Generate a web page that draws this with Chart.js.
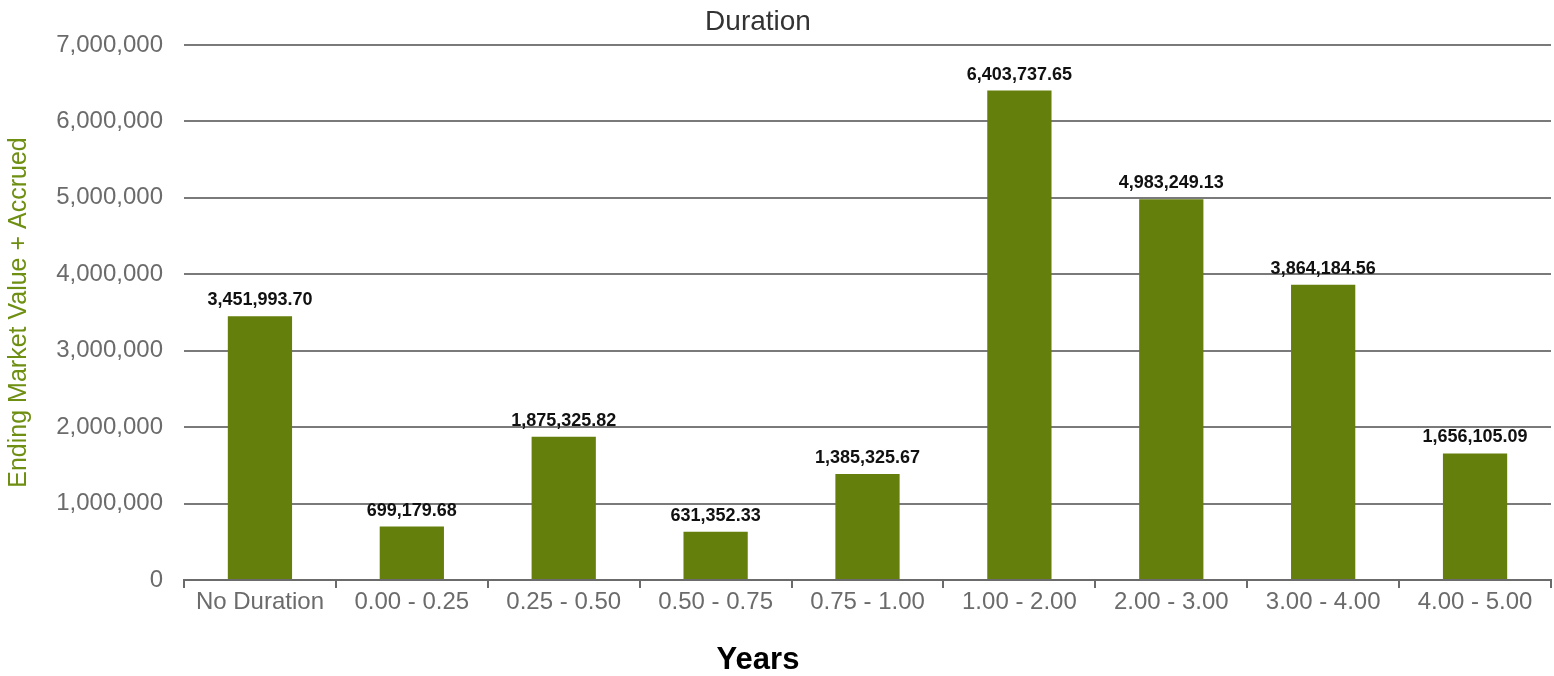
<!DOCTYPE html>
<html>
<head>
<meta charset="utf-8">
<script src="https://cdn.jsdelivr.net/npm/chart.js@4/dist/chart.umd.min.js"></script>
<style>
  html, body { margin: 0; padding: 0; background: #ffffff; }
  #wrap { width: 1554px; height: 676px; }
</style>
</head>
<body>
<div id="wrap"><canvas id="c" width="1554" height="676"></canvas></div>
<script>
const categories = ["No Duration", "0.00 - 0.25", "0.25 - 0.50", "0.50 - 0.75", "0.75 - 1.00", "1.00 - 2.00", "2.00 - 3.00", "3.00 - 4.00", "4.00 - 5.00"];
const values = [3451993.70, 699179.68, 1875325.82, 631352.33, 1385325.67, 6403737.65, 4983249.13, 3864184.56, 1656105.09];
const yTicks = [0, 1000000, 2000000, 3000000, 4000000, 5000000, 6000000, 7000000];
const chartTitle = "Duration";
const xTitle = "Years";
const yTitle = "Ending Market Value + Accrued";

const FONT = "'Liberation Sans', Arial, sans-serif";
const fmtLabel = v => v.toLocaleString('en-US', {minimumFractionDigits: 2, maximumFractionDigits: 2});

const valueLabels = {
  id: 'valueLabels',
  afterDatasetsDraw(chart) {
    const ctx = chart.ctx;
    const meta = chart.getDatasetMeta(0);
    ctx.save();
    ctx.font = "bold 18px " + FONT;
    ctx.fillStyle = '#111111';
    ctx.textAlign = 'center';
    ctx.textBaseline = 'middle';
    meta.data.forEach((bar, i) => {
      ctx.fillText(fmtLabel(values[i]), bar.x, bar.y - 16);
    });
    ctx.restore();
  }
};

// Chart title and x-axis title, centred slightly left of the canvas centre as in the reference
const titles = {
  id: 'titles',
  afterDraw(chart) {
    const ctx = chart.ctx;
    const cx = chart.width / 2 - 19;
    ctx.save();
    ctx.textAlign = 'center';
    ctx.textBaseline = 'middle';
    ctx.fillStyle = '#333333';
    ctx.font = "28px " + FONT;
    ctx.fillText(chartTitle, cx, 22);
    ctx.fillStyle = '#000000';
    ctx.font = "bold 31px " + FONT;
    ctx.fillText(xTitle, cx, 660);
    ctx.restore();
  }
};

new Chart(document.getElementById('c'), {
  type: 'bar',
  data: {
    labels: categories,
    datasets: [{
      data: values,
      backgroundColor: '#647F0B',
      borderWidth: 0,
      categoryPercentage: 0.47,
      barPercentage: 0.9
    }]
  },
  options: {
    responsive: false,
    animation: false,
    layout: { padding: { left: 0, right: 3, top: 45, bottom: 0 } },
    plugins: {
      legend: { display: false },
      tooltip: { enabled: false },
      title: { display: false }
    },
    scales: {
      x: {
        grid: { display: true, drawOnChartArea: false, drawTicks: true, tickLength: 8, color: '#6b6b6b', lineWidth: 2, offset: true },
        border: { display: true, color: '#6b6b6b', width: 2 },
        ticks: { color: '#6b6b6b', font: { family: FONT, size: 24 }, padding: 0, maxRotation: 0, autoSkip: false },
        afterFit(scale) { scale.height = 96; }
      },
      y: {
        min: 0,
        max: 7000000,
        afterBuildTicks(scale) { scale.ticks = yTicks.map(v => ({ value: v })); },
        grid: { color: '#7a7a7a', lineWidth: 2, drawTicks: false },
        border: { display: false },
        ticks: {
          color: '#6b6b6b',
          font: { family: FONT, size: 24 },
          padding: 21,
          callback: v => Number(v).toLocaleString('en-US')
        },
        title: { display: true, text: yTitle, color: '#6e8f12', font: { family: FONT, size: 25, lineHeight: 1.2 }, padding: { top: 4, bottom: 0 } },
        afterFit(scale) { scale.width = 184; }
      }
    }
  },
  plugins: [valueLabels, titles]
});
</script>
</body>
</html>
